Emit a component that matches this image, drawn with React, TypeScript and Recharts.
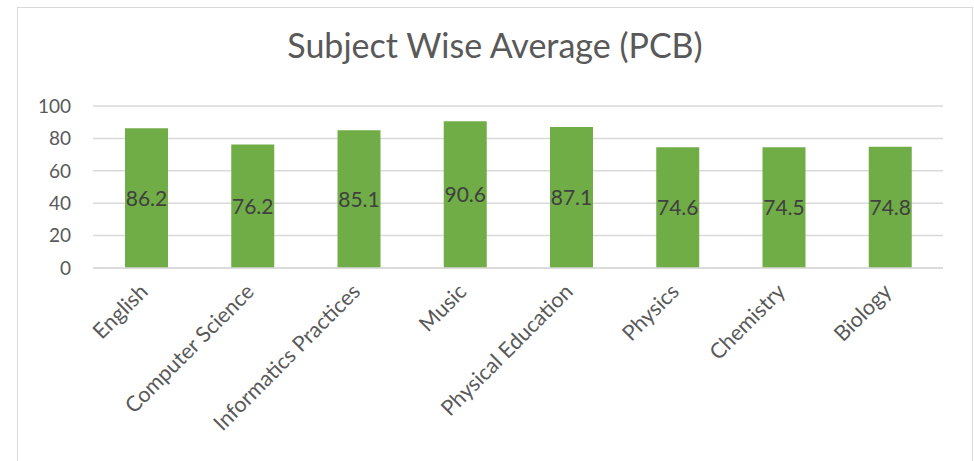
import React from 'react';
import { BarChart, Bar, XAxis, YAxis, CartesianGrid, LabelList } from 'recharts';

const subjects = [
  'English',
  'Computer Science',
  'Informatics Practices',
  'Music',
  'Physical Education',
  'Physics',
  'Chemistry',
  'Biology',
];
const averages = [86.2, 76.2, 85.1, 90.6, 87.1, 74.6, 74.5, 74.8];
const yTicks = [0, 20, 40, 60, 80, 100];

const data = subjects.map((name, i) => ({ name, avg: averages[i] }));

const FONT = 'Lato, "Open Sans", sans-serif';

const SubjectTick = (props: any) => {
  const { x, y, payload } = props;
  return (
    <g transform={`translate(${x + 3},${y + 17})`}>
      <text
        textAnchor="end"
        transform="rotate(-45)"
        fill="#595959"
        fontSize={21.5}
        fontFamily={FONT}
      >
        {payload.value}
      </text>
    </g>
  );
};

export default function App() {
  return (
    <div
      style={{
        position: 'absolute',
        left: 0,
        top: 0,
        width: 974,
        height: 461,
        overflow: 'hidden',
        background: '#fff',
      }}
    >
      <div
        style={{
          position: 'absolute',
          left: 17,
          top: 7,
          width: 954,
          height: 480,
          border: '1px solid #d9d9d9',
        }}
      />
      <div
        style={{
          position: 'absolute',
          left: 17,
          width: 956,
          top: 24,
          textAlign: 'center',
          fontFamily: FONT,
          fontSize: 34,
          color: '#595959',
        }}
      >
        Subject Wise Average (PCB)
      </div>
      <div style={{ position: 'absolute', left: 0, top: 0 }}>
        <BarChart
          width={974}
          height={461}
          data={data}
          margin={{ top: 106, right: 31, bottom: 53, left: 0 }}
        >
          <CartesianGrid vertical={false} stroke="#d9d9d9" strokeWidth={1.5} />
          <XAxis
            dataKey="name"
            height={140}
            interval={0}
            tickLine={false}
            axisLine={{ stroke: '#d9d9d9', strokeWidth: 1.5 }}
            tick={<SubjectTick />}
          />
          <YAxis
            width={93}
            domain={[0, 100]}
            ticks={yTicks}
            axisLine={false}
            tickLine={false}
            tickSize={0}
            tickMargin={22}
            tick={{ fill: '#595959', fontSize: 19, fontFamily: FONT }}
          />
          <Bar dataKey="avg" fill="#70ad47" barSize={43} isAnimationActive={false}>
            <LabelList
              dataKey="avg"
              position="center"
              fill="#404040"
              fontSize={21}
              fontFamily={FONT}
            />
          </Bar>
        </BarChart>
      </div>
    </div>
  );
}
